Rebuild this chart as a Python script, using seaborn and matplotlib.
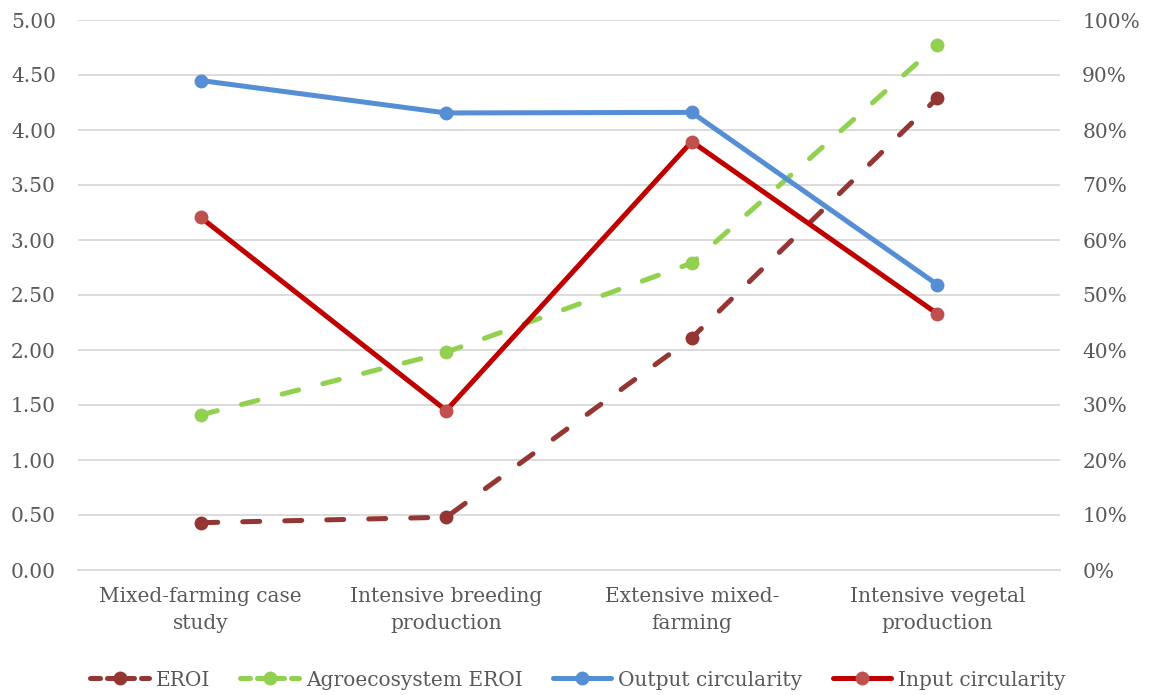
import matplotlib
matplotlib.use("Agg")
import matplotlib.pyplot as plt
from matplotlib.ticker import FuncFormatter, MultipleLocator
from matplotlib.lines import Line2D
import seaborn as sns
import pandas as pd

categories = [
    "Mixed-farming case\nstudy",
    "Intensive breeding\nproduction",
    "Extensive mixed-\nfarming",
    "Intensive vegetal\nproduction",
]
eroi = [0.43, 0.48, 2.11, 4.29]
agro_eroi = [1.41, 1.98, 2.79, 4.77]
output_circularity = [89.0, 83.1, 83.2, 51.9]   # percent
input_circularity = [64.1, 29.0, 77.9, 46.6]    # percent

C_EROI = "#943634"
C_AGRO = "#92D050"
C_OUT = "#558ED5"
C_IN_LINE = "#C00000"
C_IN_MARK = "#C0504D"
TXT = "#595959"
GRID = "#D9D9D9"

sns.set_theme(style="white")
plt.rcParams["font.family"] = ["DejaVu Serif"]

idx = list(range(len(categories)))
df = pd.DataFrame({
    "pos": idx,
    "EROI": eroi,
    "Agroecosystem EROI": agro_eroi,
    "Output circularity": output_circularity,
    "Input circularity": input_circularity,
})

fig = plt.figure(figsize=(11.56, 6.95), dpi=100)
ax = fig.add_axes([78 / 1156, 1 - 570 / 695, (1060 - 78) / 1156, 550 / 695])
ax2 = ax.twinx()

lw = 3.6
ms = 10
dash = (3.4, 5.0)

sns.lineplot(data=df, x="pos", y="EROI", ax=ax, color=C_EROI, lw=lw,
             marker="o", markersize=ms, markeredgewidth=0,
             dash_capstyle="round", solid_capstyle="round")
ax.lines[-1].set_dashes(dash)
sns.lineplot(data=df, x="pos", y="Agroecosystem EROI", ax=ax, color=C_AGRO, lw=lw,
             marker="o", markersize=ms, markeredgewidth=0,
             dash_capstyle="round", solid_capstyle="round")
ax.lines[-1].set_dashes(dash)

sns.lineplot(data=df, x="pos", y="Output circularity", ax=ax2, color=C_OUT, lw=lw,
             marker="o", markersize=ms, markeredgewidth=0, solid_capstyle="round")
sns.lineplot(data=df, x="pos", y="Input circularity", ax=ax2, color=C_IN_LINE, lw=lw,
             marker="o", markersize=ms, markeredgewidth=0,
             markerfacecolor=C_IN_MARK, solid_capstyle="round")

ax.set_xlim(-0.5, len(categories) - 0.5)
ax.set_ylim(0, 5)
ax2.set_ylim(0, 100)
ax.yaxis.set_major_locator(MultipleLocator(0.5))
ax.yaxis.set_major_formatter(FuncFormatter(lambda v, p: f"{v:.2f}"))
ax2.yaxis.set_major_locator(MultipleLocator(10))
ax2.yaxis.set_major_formatter(FuncFormatter(lambda v, p: f"{v:.0f}%"))

ax.set_xticks(idx)
ax.set_xticklabels(categories, linespacing=1.55)
ax.set_xlabel("")
ax.set_ylabel("")
ax2.set_ylabel("")

ax.grid(axis="y", color=GRID, lw=1.3)
ax.grid(axis="x", visible=False)
ax2.grid(False)
ax.set_axisbelow(True)

for a in (ax, ax2):
    for s in a.spines.values():
        s.set_visible(False)
    a.tick_params(length=0, labelsize=14.5, labelcolor=TXT)
ax.spines["bottom"].set_visible(True)
ax.spines["bottom"].set_color(GRID)
ax.spines["bottom"].set_linewidth(1.3)
ax.tick_params(axis="y", pad=16)
ax2.tick_params(axis="y", pad=16)
ax.tick_params(axis="x", pad=12)

handles = [
    Line2D([], [], color=C_EROI, lw=lw, marker="o", markersize=ms, markeredgewidth=0,
           dashes=(2.0, 1.4), dash_capstyle="round"),
    Line2D([], [], color=C_AGRO, lw=lw, marker="o", markersize=ms, markeredgewidth=0,
           dashes=(2.0, 1.4), dash_capstyle="round"),
    Line2D([], [], color=C_OUT, lw=lw, marker="o", markersize=ms, markeredgewidth=0),
    Line2D([], [], color=C_IN_LINE, lw=lw, marker="o", markersize=ms, markeredgewidth=0,
           markerfacecolor=C_IN_MARK),
]
labels = ["EROI", "Agroecosystem EROI", "Output circularity", "Input circularity"]
fig.legend(handles, labels, loc="center", bbox_to_anchor=(0.5, 1 - 680 / 695),
           ncol=4, frameon=False, fontsize=14.5, labelcolor=TXT,
           handlelength=2.9, handletextpad=0.35, columnspacing=1.5)

fig.savefig("out.png", dpi=100)
